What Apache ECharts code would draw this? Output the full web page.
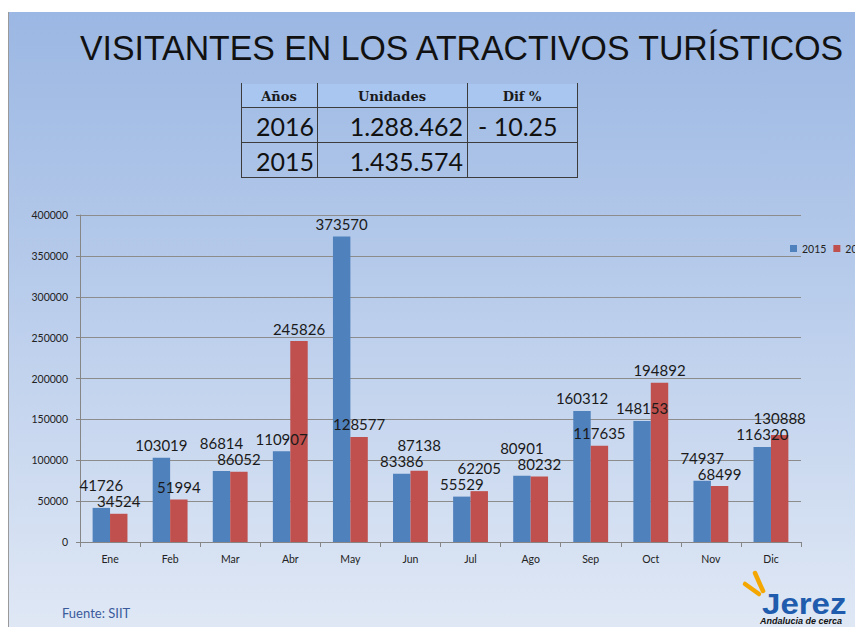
<!DOCTYPE html>
<html>
<head>
<meta charset="utf-8">
<script src="https://cdn.jsdelivr.net/npm/echarts@6/dist/echarts.min.js"></script>
<style>
  html, body { margin: 0; padding: 0; background: #fff; overflow: hidden; }
  #chart { width: 900px; height: 627px; }
</style>
</head>
<body>
<div id="chart"></div>
<script>
// monthly visitors
var months = ["Ene", "Feb", "Mar", "Abr", "May", "Jun", "Jul", "Ago", "Sep", "Oct", "Nov", "Dic"];
var visitors2015 = [41726, 103019, 86814, 110907, 373570, 83386, 55529, 80901, 160312, 148153, 74937, 116320];
var visitors2016 = [34524, 51994, 86052, 245826, 128577, 87138, 62205, 80232, 117635, 194892, 68499, 130888];
var seriesNames = ["2015", "2016"];

// summary table
var tableHeader = ["Años", "Unidades", "Dif %"];
var tableYears = ["2016", "2015"];
var tableUnits = ["1.288.462", "1.435.574"];
var tableDiff = ["- 10.25", ""];

var latin = "Lato, 'Open Sans', sans-serif";
var yMax = 400000;
var gridH = 327;

var chart = echarts.init(document.getElementById("chart"), null, { renderer: "svg" });

// push the taller bar's label up when the two labels of a month collide
function stackLabels(p) {
  var i = p.dataIndex;
  var mine = p.seriesIndex === 0 ? visitors2015[i] : visitors2016[i];
  var other = p.seriesIndex === 0 ? visitors2016[i] : visitors2015[i];
  if (mine < other || (mine === other && p.seriesIndex === 1)) return {};
  var gap = (mine - other) * gridH / yMax;
  var need = p.labelRect.height + 1;
  if (gap < need) return { dy: -(need - gap) };
  return {};
}

// table drawn with graphic elements
var tableGraphics = [];
var colX = [241, 317, 467, 577];
var rowY = [84, 107, 142, 177];
tableGraphics.push({
  type: "rect", z: 1,
  shape: { x: colX[0], y: rowY[0], width: colX[3] - colX[0], height: rowY[1] - rowY[0] },
  style: { fill: "#a9c6f0" }
});
colX.forEach(function (x) {
  tableGraphics.push({
    type: "line", z: 2,
    shape: { x1: x + 0.5, y1: rowY[0] - 1, x2: x + 0.5, y2: rowY[3] + 1 },
    style: { stroke: "#3c3c3c", lineWidth: 1 }
  });
});
rowY.slice(1).forEach(function (y) {
  tableGraphics.push({
    type: "line", z: 2,
    shape: { x1: colX[0], y1: y + 0.5, x2: colX[3], y2: y + 0.5 },
    style: { stroke: "#3c3c3c", lineWidth: 1 }
  });
});
tableHeader.forEach(function (h, i) {
  tableGraphics.push({
    type: "text", z: 3,
    x: (colX[i] + colX[i + 1]) / 2, y: 96,
    style: { text: h, fill: "#1a1a1a", font: "bold 13px 'DejaVu Serif', serif", align: "center", verticalAlign: "middle" }
  });
});
tableYears.forEach(function (yr, r) {
  var cy = (rowY[r + 1] + rowY[r + 2]) / 2 + 1;
  tableGraphics.push({
    type: "text", z: 3, x: 314, y: cy,
    style: { text: yr, fill: "#111", font: "25px " + latin, align: "right", verticalAlign: "middle" }
  });
  tableGraphics.push({
    type: "text", z: 3, x: 463, y: cy,
    style: { text: tableUnits[r], fill: "#111", font: "25px " + latin, align: "right", verticalAlign: "middle" }
  });
  if (tableDiff[r]) {
    tableGraphics.push({
      type: "text", z: 3, x: 478, y: cy,
      style: { text: tableDiff[r], fill: "#111", font: "25px " + latin, align: "left", verticalAlign: "middle" }
    });
  }
});

var option = {
  animation: false,
  textStyle: { fontFamily: latin },
  graphic: [
    {
      type: "rect", z: -10,
      shape: { x: 9, y: 12, width: 900, height: 620 },
      style: {
        fill: new echarts.graphic.LinearGradient(0, 0, 0, 1, [
          { offset: 0, color: "#9bb7e3" },
          { offset: 0.45, color: "#b8cceb" },
          { offset: 1, color: "#e0e8f5" }
        ])
      }
    },
    {
      type: "line", z: -9,
      shape: { x1: 8.5, y1: 12, x2: 8.5, y2: 627 },
      style: { stroke: "#9a9a9a", lineWidth: 1 }
    },
    {
      type: "text", z: 5, x: 80, y: 47, scaleX: 0.94,
      style: {
        text: "VISITANTES EN LOS ATRACTIVOS TURÍSTICOS",
        fill: "#111", font: "36px 'Liberation Sans', Arial, sans-serif",
        verticalAlign: "middle"
      }
    },
    {
      type: "text", z: 5, x: 62, y: 613,
      style: { text: "Fuente: SIIT", fill: "#3a5a9c", font: "13px " + latin, verticalAlign: "middle" }
    },
    // jerez logo
    {
      type: "line", z: 5,
      shape: { x1: 745, y1: 584, x2: 759, y2: 594 },
      style: { stroke: "#f4a700", lineWidth: 4.5, lineCap: "round" }
    },
    {
      type: "line", z: 5,
      shape: { x1: 755, y1: 573, x2: 763, y2: 591 },
      style: { stroke: "#f4a700", lineWidth: 4.5, lineCap: "round" }
    },
    {
      type: "text", z: 5, x: 762, y: 604, scaleX: 1.14,
      style: { text: "Jerez", fill: "#1f5cae", font: "bold 29px 'Liberation Sans', Arial, sans-serif", verticalAlign: "middle" }
    },
    {
      type: "text", z: 5, x: 760, y: 621,
      style: { text: "Andalucia de cerca", fill: "#111", font: "italic bold 9px 'Liberation Sans', Arial, sans-serif", verticalAlign: "middle" }
    }
  ].concat(tableGraphics),
  legend: {
    data: seriesNames,
    left: 790,
    top: 243,
    padding: 0,
    icon: "rect",
    itemWidth: 7,
    itemHeight: 7,
    itemGap: 7,
    textStyle: { fontSize: 10.5, color: "#222" }
  },
  grid: { left: 80, top: 215, width: 721, height: gridH },
  xAxis: {
    type: "category",
    data: months,
    axisLine: { lineStyle: { color: "#868686" } },
    axisTick: { show: true, length: 5, lineStyle: { color: "#868686" } },
    axisLabel: { margin: 11, fontSize: 10.5, color: "#222" }
  },
  yAxis: {
    type: "value",
    min: 0,
    max: yMax,
    interval: 50000,
    axisLine: { show: true, lineStyle: { color: "#868686" } },
    axisTick: { show: true, length: 4, lineStyle: { color: "#868686" } },
    axisLabel: {
      margin: 12, fontSize: 10.5, color: "#222",
      formatter: function (v) { return String(v); }
    },
    splitLine: { lineStyle: { color: "#8c8c8c", width: 1 } }
  },
  series: [
    {
      name: seriesNames[0],
      type: "bar",
      data: visitors2015,
      barGap: "0%",
      barCategoryGap: "42%",
      itemStyle: { color: "#4f81bd" },
      label: { show: true, position: "top", distance: 5, fontSize: 15, color: "#1a1a1a" },
      labelLayout: stackLabels
    },
    {
      name: seriesNames[1],
      type: "bar",
      data: visitors2016,
      barGap: "0%",
      barCategoryGap: "42%",
      itemStyle: { color: "#c0504d" },
      label: { show: true, position: "top", distance: 5, fontSize: 15, color: "#1a1a1a" },
      labelLayout: stackLabels
    }
  ]
};

chart.setOption(option);
</script>
</body>
</html>
